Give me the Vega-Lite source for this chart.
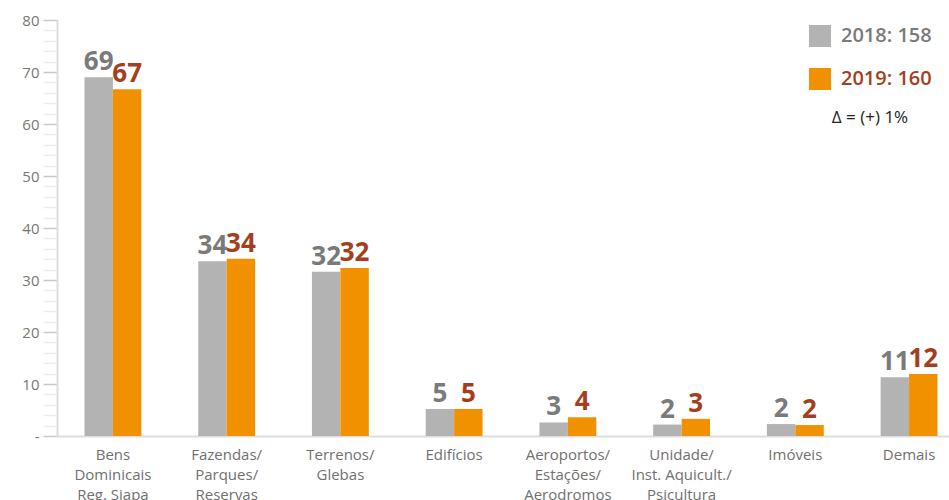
{
  "$schema": "https://vega.github.io/schema/vega-lite/v6.json",
  "width": 892,
  "height": 416,
  "autosize": "none",
  "padding": {"left": 57, "top": 20, "right": 0, "bottom": 64},
  "background": "white",
  "config": {"view": {"stroke": null}, "font": "Open Sans"},
  "data": {"values": [
    {"cat": "Bens|Dominicais|Reg. Siapa", "ano": "2018", "valor": 69.0},
    {"cat": "Bens|Dominicais|Reg. Siapa", "ano": "2019", "valor": 66.7},
    {"cat": "Fazendas/|Parques/|Reservas", "ano": "2018", "valor": 33.6},
    {"cat": "Fazendas/|Parques/|Reservas", "ano": "2019", "valor": 34.1},
    {"cat": "Terrenos/|Glebas", "ano": "2018", "valor": 31.6},
    {"cat": "Terrenos/|Glebas", "ano": "2019", "valor": 32.3},
    {"cat": "Edifícios", "ano": "2018", "valor": 5.2},
    {"cat": "Edifícios", "ano": "2019", "valor": 5.2},
    {"cat": "Aeroportos/|Estações/|Aerodromos", "ano": "2018", "valor": 2.6},
    {"cat": "Aeroportos/|Estações/|Aerodromos", "ano": "2019", "valor": 3.6},
    {"cat": "Unidade/|Inst. Aquicult./|Psicultura", "ano": "2018", "valor": 2.2},
    {"cat": "Unidade/|Inst. Aquicult./|Psicultura", "ano": "2019", "valor": 3.3},
    {"cat": "Imóveis", "ano": "2018", "valor": 2.3},
    {"cat": "Imóveis", "ano": "2019", "valor": 2.1},
    {"cat": "Demais", "ano": "2018", "valor": 11.3},
    {"cat": "Demais", "ano": "2019", "valor": 11.9}
  ]},
  "encoding": {
    "x": {
      "field": "cat", "type": "nominal", "sort": null,
      "scale": {"paddingInner": 0.5, "paddingOuter": 0.1715, "align": 0.705},
      "axis": {
        "title": null, "labelAngle": 0, "ticks": false,
        "domainColor": "#dddddd", "domainWidth": 2,
        "labelExpr": "split(datum.label, '|')",
        "labelFontSize": 15, "labelColor": "#707070", "labelLineHeight": 20,
        "labelPadding": 11, "labelBaseline": "top"
      }
    },
    "xOffset": {"field": "ano", "type": "nominal"},
    "y": {
      "field": "valor", "type": "quantitative",
      "scale": {"domain": [0, 80], "nice": false},
      "axis": {
        "title": null, "grid": false,
        "values": [0,2,4,6,8,10,12,14,16,18,20,22,24,26,28,30,32,34,36,38,40,42,44,46,48,50,52,54,56,58,60,62,64,66,68,70,72,74,76,78,80],
        "labelExpr": "datum.value == 0 ? '-' : (datum.value % 10 == 0 ? datum.label : '')",
        "tickColor": {"condition": {"test": "datum.value % 10 == 0", "value": "#c8c8c8"}, "value": "#ececec"},
        "tickSize": 14, "tickWidth": 1.5,
        "domainColor": "#dddddd", "domainWidth": 2,
        "labelFontSize": 15, "labelColor": "#777777", "labelPadding": 4
      }
    }
  },
  "layer": [
    {
      "mark": {"type": "bar"},
      "encoding": {
        "color": {
          "field": "ano", "type": "nominal",
          "scale": {"domain": ["2018", "2019"], "range": ["#b3b3b3", "#f29100"]},
          "legend": {
            "orient": "none", "legendX": 752, "legendY": 5,
            "title": "Δ = (+) 1%", "titleOrient": "bottom",
            "titleFontSize": 17, "titleColor": "#222222", "titleFontWeight": "normal",
            "titleAnchor": "middle", "titlePadding": 20,
            "symbolType": "square", "symbolSize": 484, "symbolStrokeWidth": 0,
            "symbolOpacity": 1,
            "labelFontSize": 20, "labelFontWeight": 600, "labelOffset": 10, "rowPadding": 21,
            "labelExpr": "datum.label == '2018' ? '2018: 158' : '2019: 160'",
            "encode": {"labels": {"update": {"fill": {"signal": "datum.value == '2018' ? '#7a7a7a' : '#a33f1f'"}}}}
          }
        }
      }
    },
    {
      "mark": {"type": "text", "baseline": "alphabetic", "dy": -7, "fontSize": 26, "fontWeight": "bold"},
      "encoding": {
        "text": {"field": "valor", "type": "quantitative", "format": ".0f"},
        "color": {
          "field": "ano", "type": "nominal",
          "scale": {"domain": ["2018", "2019"], "range": ["#7a7a7a", "#a33f1f"]},
          "legend": null
        }
      }
    }
  ],
  "resolve": {"scale": {"color": "independent"}}
}
